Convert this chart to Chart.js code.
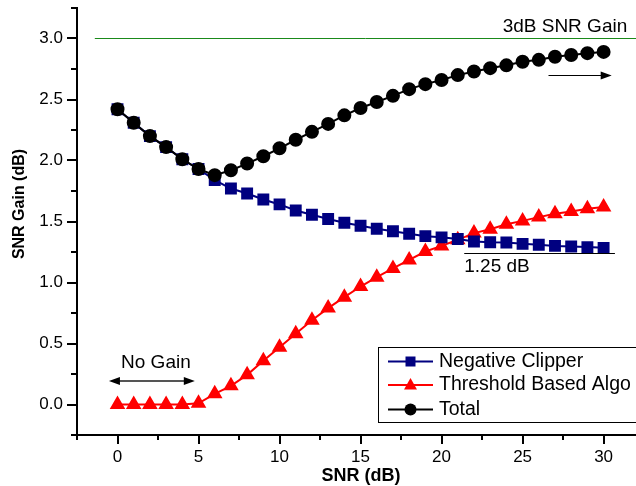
<!DOCTYPE html>
<html>
<head>
<meta charset="utf-8">
<title>SNR Gain</title>
<script src="https://cdn.jsdelivr.net/npm/chart.js@4.4.1/dist/chart.umd.min.js"></script>
<style>
  html, body { margin: 0; padding: 0; background: #fff; }
  #wrapper-chart { width: 636px; height: 486px; }
</style>
</head>
<body>
<div id="wrapper-chart"><canvas id="myChart" width="636" height="486"></canvas></div>
<script>

  /////////////////////
 // DONNÉES         //
/////////////////////

const snr = [0, 1, 2, 3, 4, 5, 6, 7, 8, 9, 10, 11, 12, 13, 14, 15, 16, 17, 18, 19, 20, 21, 22, 23, 24, 25, 26, 27, 28, 29, 30];

const negativeClipper = [2.42, 2.31, 2.20, 2.11, 2.01, 1.93, 1.84, 1.77, 1.73, 1.68, 1.64, 1.59, 1.555, 1.52, 1.49, 1.465,
  1.44, 1.42, 1.40, 1.38, 1.37, 1.356, 1.336, 1.33, 1.328, 1.317, 1.31, 1.30, 1.295, 1.29, 1.284];

const thresholdAlgo = [0, 0, 0, 0, 0, 0.01, 0.088, 0.153, 0.243, 0.358, 0.47, 0.58, 0.69, 0.79, 0.88, 0.967,
  1.044, 1.115, 1.185, 1.254, 1.30, 1.35, 1.405, 1.437, 1.478, 1.505, 1.536, 1.563, 1.582, 1.604, 1.618];

const total = [2.42, 2.31, 2.20, 2.11, 2.01, 1.93, 1.88, 1.92, 1.975, 2.035, 2.10, 2.17, 2.235, 2.30, 2.37, 2.43,
  2.48, 2.53, 2.585, 2.626, 2.66, 2.70, 2.73, 2.757, 2.78, 2.81, 2.825, 2.85, 2.865, 2.88, 2.89];

const seriesNames = ['Negative Clipper', 'Threshold Based Algo', 'Total'];

const xTitle = 'SNR (dB)';
const yTitle = 'SNR Gain (dB)';

// ligne de référence 3 dB
const refLevel = 3.0;
const refSpan = [-1.4, 32];

// annotations (unités des axes)
const gainLabel = '3dB SNR Gain';
const floorLabel = '1.25 dB';
const floorLevel = 1.24;
const floorSpan = [21.4, 30.7];
const noGainLabel = 'No Gain';
const noGainSpan = [-0.53, 4.77];
const noGainLevel = 0.19;
const trendSpan = [26.6, 30.5];
const trendLevel = 2.70;

const FONT = "'Liberation Sans', Arial, sans-serif";


  /////////////////////
 // PLUGIN DESSIN   //
/////////////////////

function arrowHead(ctx, x, y, dir) {
  ctx.beginPath();
  ctx.moveTo(x, y);
  ctx.lineTo(x - dir * 11, y - 4);
  ctx.lineTo(x - dir * 11, y + 4);
  ctx.closePath();
  ctx.fill();
}

function marker(ctx, style, x, y, color) {
  ctx.fillStyle = color;
  ctx.beginPath();
  if (style === 'rect') {
    ctx.rect(x - 5, y - 5, 10, 10);
  } else if (style === 'triangle') {
    ctx.moveTo(x, y - 7);
    ctx.lineTo(x + 6.5, y + 4.5);
    ctx.lineTo(x - 6.5, y + 4.5);
    ctx.closePath();
  } else {
    ctx.arc(x, y, 6, 0, Math.PI * 2);
  }
  ctx.fill();
}

const extras = {
  id: 'extras',
  afterDraw(chart) {
    const ctx = chart.ctx;
    const xs = chart.scales.x;
    const ys = chart.scales.y;
    const area = chart.chartArea;
    ctx.save();

    // graduations (majeures / mineures)
    ctx.strokeStyle = '#000';
    ctx.lineWidth = 2;
    xs.ticks.forEach(t => {
      const px = Math.round(xs.getPixelForValue(t.value));
      const len = (Math.abs(t.value % 5) < 1e-6) ? 9 : 5;
      ctx.beginPath();
      ctx.moveTo(px, area.bottom);
      ctx.lineTo(px, area.bottom + len);
      ctx.stroke();
    });
    ys.ticks.forEach(t => {
      const py = Math.round(ys.getPixelForValue(t.value));
      const len = (Math.abs((t.value * 2) % 1) < 1e-6) ? 10 : 6;
      ctx.beginPath();
      ctx.moveTo(area.left, py);
      ctx.lineTo(area.left - len, py);
      ctx.stroke();
    });

    // titres des axes
    ctx.fillStyle = '#000';
    ctx.textBaseline = 'middle';
    ctx.textAlign = 'center';
    ctx.font = 'bold 18px ' + FONT;
    ctx.fillText(xTitle, 361, 476.5);
    ctx.save();
    ctx.translate(20, 204);
    ctx.rotate(-Math.PI / 2);
    ctx.font = 'bold 16px ' + FONT;
    ctx.fillText(yTitle, 0, 0);
    ctx.restore();

    ctx.font = '19px ' + FONT;

    // 3dB SNR Gain
    ctx.textAlign = 'right';
    ctx.fillText(gainLabel, xs.getPixelForValue(31.46), ys.getPixelForValue(3.10));

    // 1.25 dB
    ctx.lineWidth = 1;
    const fy = Math.round(ys.getPixelForValue(floorLevel)) + 0.5;
    ctx.beginPath();
    ctx.moveTo(xs.getPixelForValue(floorSpan[0]), fy);
    ctx.lineTo(xs.getPixelForValue(floorSpan[1]), fy);
    ctx.stroke();
    ctx.textAlign = 'left';
    ctx.fillText(floorLabel, xs.getPixelForValue(floorSpan[0]), ys.getPixelForValue(1.13));

    // flèche tendance
    const ty = Math.round(ys.getPixelForValue(trendLevel)) + 0.5;
    const tx0 = xs.getPixelForValue(trendSpan[0]);
    const tx1 = xs.getPixelForValue(trendSpan[1]);
    ctx.beginPath();
    ctx.moveTo(tx0, ty);
    ctx.lineTo(tx1 - 8, ty);
    ctx.stroke();
    arrowHead(ctx, tx1, ty, 1);

    // No Gain
    ctx.textAlign = 'center';
    ctx.fillText(noGainLabel, xs.getPixelForValue(2.37), ys.getPixelForValue(0.345));
    const ny = Math.round(ys.getPixelForValue(noGainLevel));
    const nx0 = xs.getPixelForValue(noGainSpan[0]);
    const nx1 = xs.getPixelForValue(noGainSpan[1]);
    ctx.strokeStyle = '#555';
    ctx.lineWidth = 2;
    ctx.beginPath();
    ctx.moveTo(nx0 + 6, ny);
    ctx.lineTo(nx1 - 6, ny);
    ctx.stroke();
    ctx.fillStyle = '#000';
    arrowHead(ctx, nx0, ny, -1);
    arrowHead(ctx, nx1, ny, 1);

    // légende
    const lx = 378, ly = 347;
    ctx.fillStyle = '#fff';
    ctx.fillRect(lx, ly, 270, 75);
    ctx.strokeStyle = '#000';
    ctx.lineWidth = 1;
    ctx.strokeRect(lx + 0.5, ly + 0.5, 270, 75);
    ctx.font = '19.5px ' + FONT;
    const rows = [361.5, 385, 409.5];
    chart.data.datasets.filter(d => d.inLegend).forEach((d, i) => {
      const y = rows[i];
      ctx.strokeStyle = d.borderColor;
      ctx.lineWidth = 2;
      ctx.beginPath();
      ctx.moveTo(388, y);
      ctx.lineTo(433, y);
      ctx.stroke();
      marker(ctx, d.pointStyle, 410.5, y, d.borderColor);
      ctx.fillStyle = '#000';
      ctx.textAlign = 'left';
      ctx.fillText(d.label, 439, y);
    });

    ctx.restore();
  }
};


  /////////////////////
 // GRAPHIQUE       //
/////////////////////

const toPoints = arr => snr.map((x, i) => ({ x: x, y: arr[i] }));

const ctx = document.getElementById('myChart').getContext('2d');

new Chart(ctx, {
  type: 'line',
  data: {
    datasets: [
      {
        label: seriesNames[0],
        data: toPoints(negativeClipper),
        borderColor: '#000080',
        backgroundColor: '#000080',
        pointStyle: 'rect',
        pointRadius: 7,
        borderWidth: 2,
        order: 2,
        inLegend: true
      },
      {
        label: seriesNames[1],
        data: toPoints(thresholdAlgo),
        borderColor: '#ff0000',
        backgroundColor: '#ff0000',
        pointStyle: 'triangle',
        pointRadius: 7,
        borderWidth: 2,
        order: 3,
        inLegend: true
      },
      {
        label: seriesNames[2],
        data: toPoints(total),
        borderColor: '#000000',
        backgroundColor: '#000000',
        pointStyle: 'circle',
        pointRadius: 6,
        borderWidth: 2,
        order: 1,
        inLegend: true
      },
      {
        label: 'ref',
        data: refSpan.map(x => ({ x: x, y: refLevel })),
        borderColor: '#1a8a1a',
        borderWidth: 1,
        pointRadius: 0,
        order: 4,
        inLegend: false
      }
    ]
  },
  options: {
    responsive: false,
    animation: false,
    layout: { autoPadding: false, padding: { top: 8, left: 0, right: 0, bottom: 0 } },
    elements: { line: { tension: 0 }, point: { borderWidth: 0, hoverRadius: 6 } },
    plugins: { legend: { display: false }, tooltip: { enabled: false } },
    scales: {
      x: {
        type: 'linear',
        min: -2.5,
        max: 32,
        grid: { display: false, drawTicks: false },
        border: { display: true, color: '#000', width: 2 },
        ticks: {
          stepSize: 2.5,
          padding: 12,
          color: '#000',
          font: { family: FONT, size: 17 },
          autoSkip: false,
          maxRotation: 0,
          callback: v => (v % 5 === 0 ? String(v) : '')
        },
        afterBuildTicks: scale => {
          scale.ticks = scale.ticks.filter(t => Math.abs(t.value / 2.5 - Math.round(t.value / 2.5)) < 1e-6);
        },
        afterFit: scale => {
          scale.height = 51;
          scale.paddingLeft = 0;
          scale.paddingRight = 0;
        },
        title: { display: false }
      },
      y: {
        type: 'linear',
        min: -0.25,
        max: 3.25,
        grid: { display: false, drawTicks: false },
        border: { display: true, color: '#000', width: 2 },
        ticks: {
          stepSize: 0.25,
          padding: 14,
          color: '#000',
          font: { family: FONT, size: 17 },
          autoSkip: false,
          callback: v => (Math.abs((v * 2) % 1) < 1e-6 ? v.toFixed(1) : '')
        },
        afterFit: scale => {
          scale.width = 77;
          scale.paddingTop = 0;
          scale.paddingBottom = 0;
        },
        title: { display: false }
      }
    }
  },
  plugins: [extras]
});
</script>
</body>
</html>
